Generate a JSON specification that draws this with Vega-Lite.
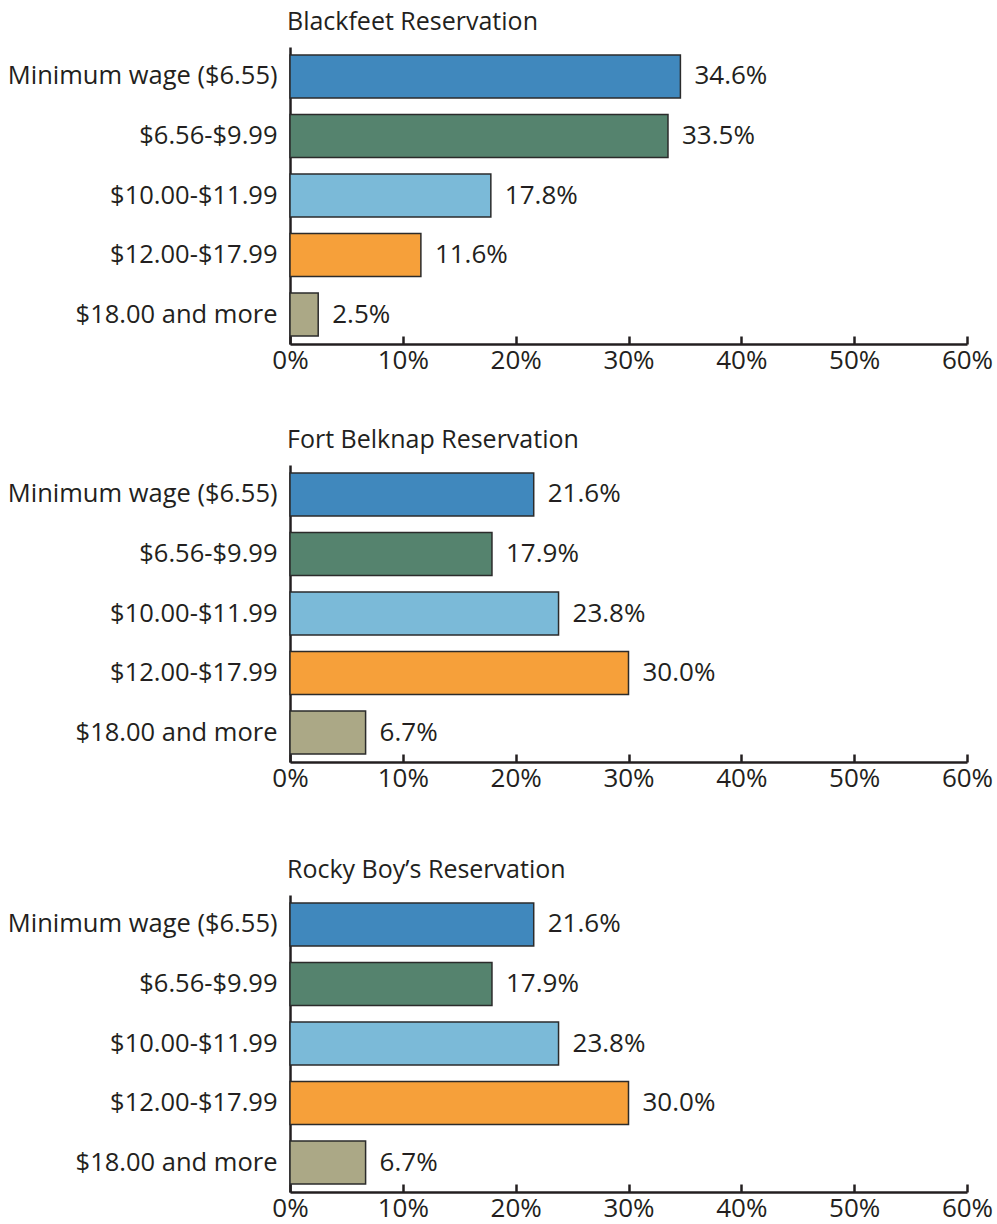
{
  "$schema": "https://vega.github.io/schema/vega-lite/v6.json",
  "background": "white",
  "padding": {"left": 7, "top": 10, "right": 5, "bottom": 0},
  "data": {
    "values": [
      {"reservation": "Blackfeet Reservation", "category": "Minimum wage ($6.55)", "value": 0.346},
      {"reservation": "Blackfeet Reservation", "category": "$6.56-$9.99", "value": 0.335},
      {"reservation": "Blackfeet Reservation", "category": "$10.00-$11.99", "value": 0.178},
      {"reservation": "Blackfeet Reservation", "category": "$12.00-$17.99", "value": 0.116},
      {"reservation": "Blackfeet Reservation", "category": "$18.00 and more", "value": 0.025},
      {"reservation": "Fort Belknap Reservation", "category": "Minimum wage ($6.55)", "value": 0.216},
      {"reservation": "Fort Belknap Reservation", "category": "$6.56-$9.99", "value": 0.179},
      {"reservation": "Fort Belknap Reservation", "category": "$10.00-$11.99", "value": 0.238},
      {"reservation": "Fort Belknap Reservation", "category": "$12.00-$17.99", "value": 0.300},
      {"reservation": "Fort Belknap Reservation", "category": "$18.00 and more", "value": 0.067},
      {"reservation": "Rocky Boy’s Reservation", "category": "Minimum wage ($6.55)", "value": 0.216},
      {"reservation": "Rocky Boy’s Reservation", "category": "$6.56-$9.99", "value": 0.179},
      {"reservation": "Rocky Boy’s Reservation", "category": "$10.00-$11.99", "value": 0.238},
      {"reservation": "Rocky Boy’s Reservation", "category": "$12.00-$17.99", "value": 0.300},
      {"reservation": "Rocky Boy’s Reservation", "category": "$18.00 and more", "value": 0.067}
    ]
  },
  "config": {
    "view": {"stroke": null},
    "font": "Open Sans",
    "title": {"font": "Open Sans", "fontSize": 25, "fontWeight": "normal", "color": "#231f20", "anchor": "start", "frame": "group", "offset": 12, "dx": -3},
    "axis": {
      "labelFont": "Open Sans",
      "labelColor": "#231f20",
      "domainColor": "#231f20",
      "domainWidth": 2.5,
      "grid": false,
      "title": null
    },
    "axisY": {"ticks": false, "labelPadding": 13, "labelLimit": 400, "labelFontSize": 25.5},
    "axisX": {"tickSize": -8, "tickWidth": 2.5, "tickColor": "#231f20", "labelPadding": 11, "labelFlush": false, "labelFontSize": 26}
  },
  "spacing": 67,
  "vconcat": [
    {
      "vconcat": [
        {
          "title": "Blackfeet Reservation",
          "transform": [{"filter": "datum.reservation === 'Blackfeet Reservation'"}],
          "width": 677, "height": 297,
          "encoding": {
            "y": {"field": "category", "type": "nominal", "sort": null, "scale": {"paddingInner": 0.28, "paddingOuter": 0.135}},
            "x": {"field": "value", "type": "quantitative", "scale": {"domain": [0, 0.6], "nice": false}, "axis": {"values": [0, 0.1, 0.2, 0.3, 0.4, 0.5, 0.6], "format": ".0%"}}
          },
          "layer": [
            {"mark": {"type": "bar", "stroke": "#2b2b2b", "strokeWidth": 1.5},
             "encoding": {"color": {"field": "category", "type": "nominal", "legend": null, "scale": {"domain": ["Minimum wage ($6.55)", "$6.56-$9.99", "$10.00-$11.99", "$12.00-$17.99", "$18.00 and more"], "range": ["#4088bd", "#55836e", "#7bbad8", "#f6a03a", "#aba886"]}}}},
            {"mark": {"type": "text", "align": "left", "baseline": "middle", "dx": 14, "fontSize": 26, "color": "#231f20"},
             "encoding": {"text": {"field": "value", "format": ".1%"}}}
          ]
        },
        {
          "title": "Fort Belknap Reservation",
          "transform": [{"filter": "datum.reservation === 'Fort Belknap Reservation'"}],
          "width": 677, "height": 297,
          "encoding": {
            "y": {"field": "category", "type": "nominal", "sort": null, "scale": {"paddingInner": 0.28, "paddingOuter": 0.135}},
            "x": {"field": "value", "type": "quantitative", "scale": {"domain": [0, 0.6], "nice": false}, "axis": {"values": [0, 0.1, 0.2, 0.3, 0.4, 0.5, 0.6], "format": ".0%"}}
          },
          "layer": [
            {"mark": {"type": "bar", "stroke": "#2b2b2b", "strokeWidth": 1.5},
             "encoding": {"color": {"field": "category", "type": "nominal", "legend": null, "scale": {"domain": ["Minimum wage ($6.55)", "$6.56-$9.99", "$10.00-$11.99", "$12.00-$17.99", "$18.00 and more"], "range": ["#4088bd", "#55836e", "#7bbad8", "#f6a03a", "#aba886"]}}}},
            {"mark": {"type": "text", "align": "left", "baseline": "middle", "dx": 14, "fontSize": 26, "color": "#231f20"},
             "encoding": {"text": {"field": "value", "format": ".1%"}}}
          ]
        }
      ],
      "spacing": 55
    },
    {
      "title": "Rocky Boy’s Reservation",
      "transform": [{"filter": "datum.reservation === 'Rocky Boy’s Reservation'"}],
      "width": 677, "height": 297,
      "encoding": {
        "y": {"field": "category", "type": "nominal", "sort": null, "scale": {"paddingInner": 0.28, "paddingOuter": 0.135}},
        "x": {"field": "value", "type": "quantitative", "scale": {"domain": [0, 0.6], "nice": false}, "axis": {"values": [0, 0.1, 0.2, 0.3, 0.4, 0.5, 0.6], "format": ".0%"}}
      },
      "layer": [
        {"mark": {"type": "bar", "stroke": "#2b2b2b", "strokeWidth": 1.5},
         "encoding": {"color": {"field": "category", "type": "nominal", "legend": null, "scale": {"domain": ["Minimum wage ($6.55)", "$6.56-$9.99", "$10.00-$11.99", "$12.00-$17.99", "$18.00 and more"], "range": ["#4088bd", "#55836e", "#7bbad8", "#f6a03a", "#aba886"]}}}},
        {"mark": {"type": "text", "align": "left", "baseline": "middle", "dx": 14, "fontSize": 26, "color": "#231f20"},
         "encoding": {"text": {"field": "value", "format": ".1%"}}}
      ]
    }
  ]
}
